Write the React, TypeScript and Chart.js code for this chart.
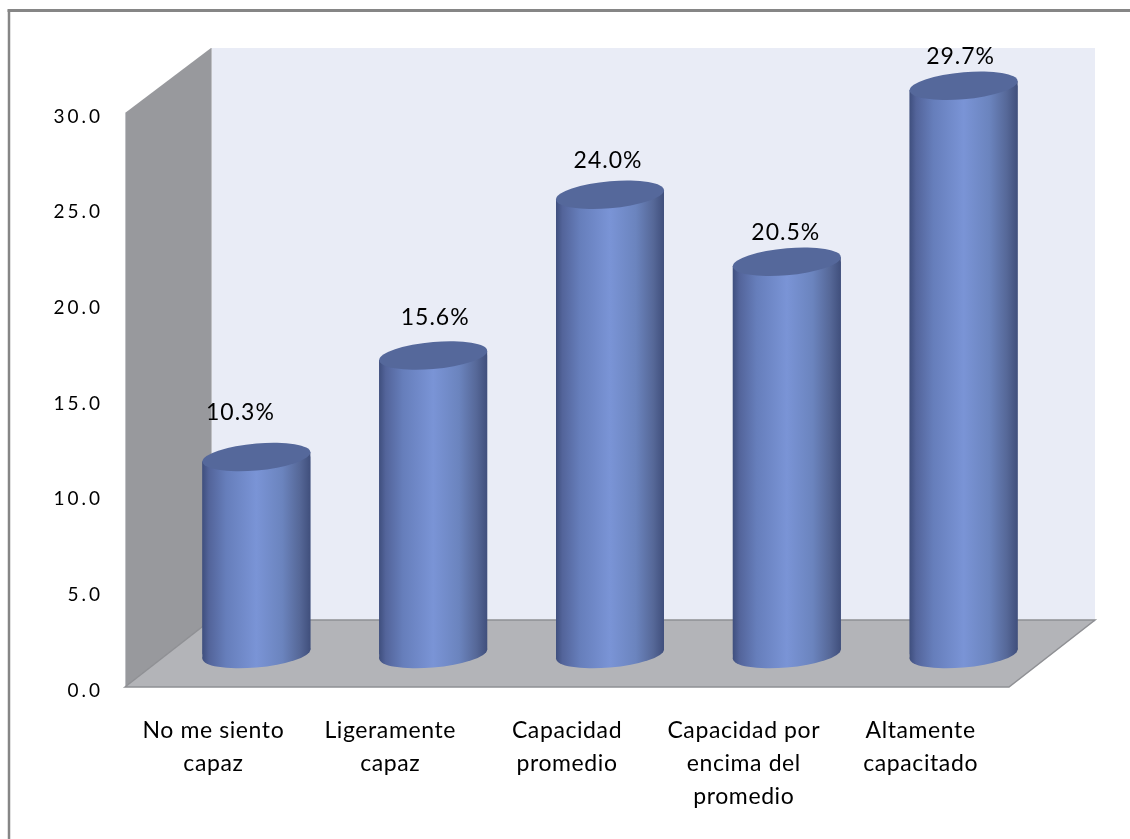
import React, { useEffect, useRef } from "react";
import { Chart, registerables } from "chart.js";

Chart.register(...registerables);

const categories: string[][] = [
  ["No me siento", "capaz"],
  ["Ligeramente", "capaz"],
  ["Capacidad", "promedio"],
  ["Capacidad por", "encima del", "promedio"],
  ["Altamente", "capacitado"],
];
const values: number[] = [10.3, 15.6, 24.0, 20.5, 29.7];
const dataLabels: string[] = ["10.3%", "15.6%", "24.0%", "20.5%", "29.7%"];
const labelNudgeX: number[] = [-16, 2, -2, -1, -3];
const labelNudgeY: number[] = [-44, -38, -34, -29, -29];

const DEPTH_X = 86;
const DEPTH_Y = 66;
const BAR_DX = 43;
const BAR_DY = 33;
const SHEAR = 0.085;
const MINOR = 13.5;
const FONT = "Lato, sans-serif";

function sideGradient(ctx: CanvasRenderingContext2D, left: number, right: number) {
  const g = ctx.createLinearGradient(left, 0, right, 0);
  g.addColorStop(0, "#3f4f7e");
  g.addColorStop(0.06, "#53649a");
  g.addColorStop(0.22, "#667ebb");
  g.addColorStop(0.5, "#7a94d6");
  g.addColorStop(0.74, "#6b84be");
  g.addColorStop(0.9, "#566898");
  g.addColorStop(1, "#404f7c");
  return g;
}

const scene3d = {
  id: "scene3d",
  beforeDraw(chart: any) {
    const { ctx } = chart;
    const spacing: [any, string][] = [
      [chart.scales.y, "3px"],
      [chart.scales.x, "0.6px"],
    ];
    for (const [s, sp] of spacing) {
      if (s.__spaced) continue;
      s.__spaced = true;
      const orig = s.drawLabels;
      s.drawLabels = function (area: any) {
        ctx.save();
        ctx.letterSpacing = sp;
        orig.call(this, area);
        ctx.restore();
      };
    }
  },
  beforeDatasetsDraw(chart: any) {
    const { ctx, scales } = chart;
    const x0 = scales.x.left;
    const x1 = scales.x.right;
    const yTop = scales.y.getPixelForValue(30);
    const yBase = scales.y.getPixelForValue(0);
    ctx.save();
    // back wall
    ctx.fillStyle = "#e9ecf6";
    ctx.fillRect(x0 + DEPTH_X, yTop - DEPTH_Y + 1, x1 - x0, yBase - yTop);
    // side wall
    ctx.fillStyle = "#98999d";
    ctx.beginPath();
    ctx.moveTo(x0, yTop);
    ctx.lineTo(x0 + DEPTH_X, yTop - DEPTH_Y + 1);
    ctx.lineTo(x0 + DEPTH_X, yBase - DEPTH_Y - 1);
    ctx.lineTo(x0, yBase);
    ctx.closePath();
    ctx.fill();
    ctx.strokeStyle = "#bfc0c4";
    ctx.lineWidth = 1;
    ctx.beginPath();
    ctx.moveTo(x0 + 0.5, yTop);
    ctx.lineTo(x0 + 0.5, yBase);
    ctx.moveTo(x0 + DEPTH_X + 0.5, yTop - DEPTH_Y + 1);
    ctx.lineTo(x0 + DEPTH_X + 0.5, yBase - DEPTH_Y - 1);
    ctx.stroke();
    // floor
    ctx.fillStyle = "#b3b4b8";
    ctx.strokeStyle = "#8f9094";
    ctx.lineWidth = 1.5;
    ctx.beginPath();
    ctx.moveTo(x0, yBase);
    ctx.lineTo(x0 + DEPTH_X, yBase - DEPTH_Y - 1);
    ctx.lineTo(x1 + DEPTH_X, yBase - DEPTH_Y - 1);
    ctx.lineTo(x1, yBase);
    ctx.closePath();
    ctx.fill();
    ctx.stroke();
    ctx.restore();
  },
  beforeDatasetDraw(chart: any) {
    const { ctx } = chart;
    const meta = chart.getDatasetMeta(0);
    // bottom caps
    for (const bar of meta.data) {
      const a = bar.width / 2;
      ctx.save();
      ctx.translate(bar.x + BAR_DX, bar.base - BAR_DY);
      ctx.transform(1, -SHEAR, 0, 1, 0, 0);
      ctx.fillStyle = sideGradient(ctx, -a, a);
      ctx.beginPath();
      ctx.ellipse(0, 0, a, MINOR, 0, 0, Math.PI * 2);
      ctx.fill();
      ctx.restore();
    }
    // the dataset's own bars, moved into the 3D scene and clipped to the cylinder sides
    ctx.save();
    ctx.translate(BAR_DX, -BAR_DY);
    const sides = (bar: any) => {
      const a = bar.width / 2;
      const d = SHEAR * a;
      ctx.moveTo(bar.x - a, bar.y + d);
      ctx.lineTo(bar.x + a, bar.y - d);
      ctx.lineTo(bar.x + a, bar.base - d);
      ctx.lineTo(bar.x - a, bar.base + d);
      ctx.closePath();
    };
    for (const bar of meta.data) {
      const a = bar.width / 2;
      const fill = sideGradient(ctx, bar.x - a, bar.x + a);
      ctx.fillStyle = fill;
      ctx.beginPath();
      sides(bar);
      ctx.fill();
      bar.options = { ...bar.options, backgroundColor: fill };
    }
    ctx.beginPath();
    for (const bar of meta.data) sides(bar);
    ctx.clip();
  },
  afterDatasetDraw(chart: any) {
    const { ctx } = chart;
    ctx.restore();
    const meta = chart.getDatasetMeta(0);
    meta.data.forEach((bar: any, i: number) => {
      const a = bar.width / 2;
      const cx = bar.x + BAR_DX;
      const cy = bar.y - BAR_DY;
      ctx.save();
      ctx.translate(cx, cy);
      ctx.transform(1, -SHEAR, 0, 1, 0, 0);
      ctx.fillStyle = "#55689b";
      ctx.beginPath();
      ctx.ellipse(0, 0, a, MINOR, 0, 0, Math.PI * 2);
      ctx.fill();
      ctx.restore();
      ctx.save();
      ctx.fillStyle = "#000";
      ctx.font = `23px ${FONT}`;
      (ctx as any).letterSpacing = "1px";
      ctx.textAlign = "center";
      ctx.textBaseline = "middle";
      ctx.fillText(dataLabels[i], cx + labelNudgeX[i], cy + labelNudgeY[i]);
      ctx.restore();
    });
  },
  afterDraw(chart: any) {
    const { ctx, width, height } = chart;
    ctx.save();
    ctx.strokeStyle = "#868686";
    ctx.lineWidth = 3;
    ctx.beginPath();
    ctx.moveTo(7.5, 10.5);
    ctx.lineTo(width, 10.5);
    ctx.stroke();
    ctx.lineWidth = 2.5;
    ctx.beginPath();
    ctx.moveTo(9, 10);
    ctx.lineTo(9, height);
    ctx.stroke();
    ctx.restore();
  },
};

export default function App() {
  const ref = useRef<HTMLCanvasElement>(null);
  useEffect(() => {
    const canvas = ref.current!;
    const chart = new Chart(canvas, {
      type: "bar",
      data: {
        labels: categories,
        datasets: [
          {
            data: values,
            barThickness: 108,
            backgroundColor: "#6b84be",
            borderWidth: 0,
            clip: false,
          },
        ],
      },
      options: {
        responsive: false,
        animation: false,
        devicePixelRatio: 1,
        layout: { padding: { left: 0, right: 121, top: 113, bottom: 0 } },
        plugins: { legend: { display: false }, tooltip: { enabled: false } },
        scales: {
          x: {
            grid: { display: false },
            border: { display: false },
            afterFit: (s: any) => { s.height = 152; },
            ticks: {
              color: "#000",
              font: { family: FONT, size: 23, lineHeight: 1.44 },
              maxRotation: 0,
              autoSkip: false,
              padding: 19,
            },
          },
          y: {
            min: 0,
            max: 30,
            grid: { display: false },
            border: { display: false },
            afterFit: (s: any) => { s.width = 125; },
            ticks: {
              stepSize: 5,
              color: "#000",
              font: { family: FONT, size: 19 },
              padding: 14,
              labelOffset: 3.5,
              callback: (v: any) => Number(v).toFixed(1),
            },
          },
        },
      },
      plugins: [scene3d],
    } as any);
    return () => chart.destroy();
  }, []);
  return (
    <div style={{ position: "absolute", left: 0, top: 0, width: 1130, height: 839, background: "#fff" }}>
      <canvas ref={ref} width={1130} height={839} style={{ display: "block" }} />
    </div>
  );
}
